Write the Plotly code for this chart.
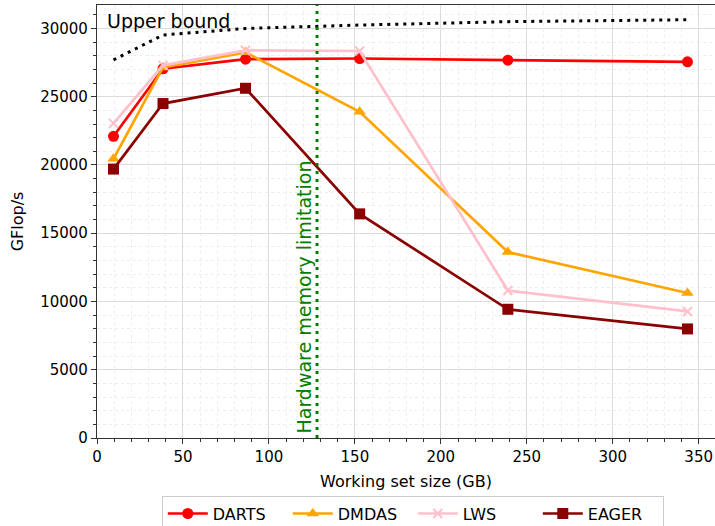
import plotly.graph_objects as go

# Data
working_set_gb = [9.6, 38.4, 86.4, 152.8, 239.0, 343.5]
darts = [22100, 27050, 27750, 27800, 27680, 27560]
dmdas = [20450, 27150, 28250, 23900, 13620, 10620]
lws = [23050, 27300, 28400, 28350, 10800, 9270]
eager = [19700, 24500, 25620, 16420, 9430, 7990]
upper_bound = [27700, 29520, 30000, 30250, 30500, 30640]
memory_limit_gb = 128

series_names = ["DARTS", "DMDAS", "LWS", "EAGER"]
series_values = [darts, dmdas, lws, eager]
series_colors = ["#ff0000", "#ffa500", "#ffc0cb", "#8b0000"]
series_symbols = ["circle", "triangle-up", "x-thin", "square"]

FONT = "DejaVu Sans"

fig = go.Figure()

# Upper bound (dotted black, no legend)
fig.add_trace(go.Scatter(
    x=working_set_gb, y=upper_bound, mode="lines",
    line=dict(color="black", width=3, dash="3px,5px"),
    showlegend=False, hoverinfo="skip"))

for name, vals, col, sym in zip(series_names, series_values, series_colors, series_symbols):
    marker = dict(color=col, size=11 if sym != "x-thin" else 9, symbol=sym)
    if sym == "x-thin":
        marker["line"] = dict(color=col, width=2)
    fig.add_trace(go.Scatter(
        x=working_set_gb, y=vals, mode="lines+markers", name=name,
        line=dict(color=col, width=2.7), marker=marker))

# Hardware memory limitation line
fig.add_shape(type="line", xref="x", yref="paper",
              x0=memory_limit_gb, x1=memory_limit_gb, y0=0, y1=1,
              line=dict(color="green", width=3, dash="3px,5px"))
fig.add_annotation(x=memory_limit_gb, y=0, xref="x", yref="y",
                   text="Hardware memory limitation", textangle=-90,
                   showarrow=False, xanchor="right", yanchor="bottom",
                   xshift=-1, yshift=2,
                   font=dict(family=FONT, size=19, color="green"))
fig.add_annotation(x=0, y=1, xref="paper", yref="paper",
                   text="Upper bound", showarrow=False,
                   xanchor="left", yanchor="top", xshift=8, yshift=-3,
                   font=dict(family=FONT, size=19, color="black"))

axis_common = dict(
    showline=True, linecolor="#333", linewidth=1.2, mirror=True,
    ticks="outside", ticklen=5, tickwidth=1, tickcolor="#333",
    showgrid=True, gridcolor="#dcdcdc", gridwidth=1,
    zeroline=False, automargin=False,
    tickfont=dict(family=FONT, size=15, color="black"),
)

fig.update_xaxes(
    range=[0, 359.5], dtick=50, tick0=0,
    title=dict(text="Working set size (GB)", font=dict(family=FONT, size=16, color="black"), standoff=10),
    minor=dict(dtick=10, ticks="outside", ticklen=3, tickcolor="#333",
               showgrid=True, gridcolor="#eeeeee", griddash="dot", gridwidth=1),
    **axis_common)
fig.update_yaxes(
    range=[0, 31720], dtick=5000, tick0=0, tickformat="d",
    title=dict(text="GFlop/s", font=dict(family=FONT, size=16, color="black"), standoff=12),
    minor=dict(dtick=1000, ticks="outside", ticklen=3, tickcolor="#333",
               showgrid=True, gridcolor="#eeeeee", griddash="dot", gridwidth=1),
    **axis_common)

fig.update_layout(
    width=715, height=526,
    margin=dict(l=97, r=0, t=5, b=88, autoexpand=False),
    plot_bgcolor="white", paper_bgcolor="white",
    font=dict(family=FONT, color="black"),
    legend=dict(orientation="h", x=0.511, xanchor="center", y=-0.133, yanchor="top",
                bordercolor="#cccccc", borderwidth=1, bgcolor="white",
                font=dict(family=FONT, size=16), itemwidth=40,
                entrywidth=70, entrywidthmode="pixels",
                tracegroupgap=0),
)

fig.write_html("out.html")
